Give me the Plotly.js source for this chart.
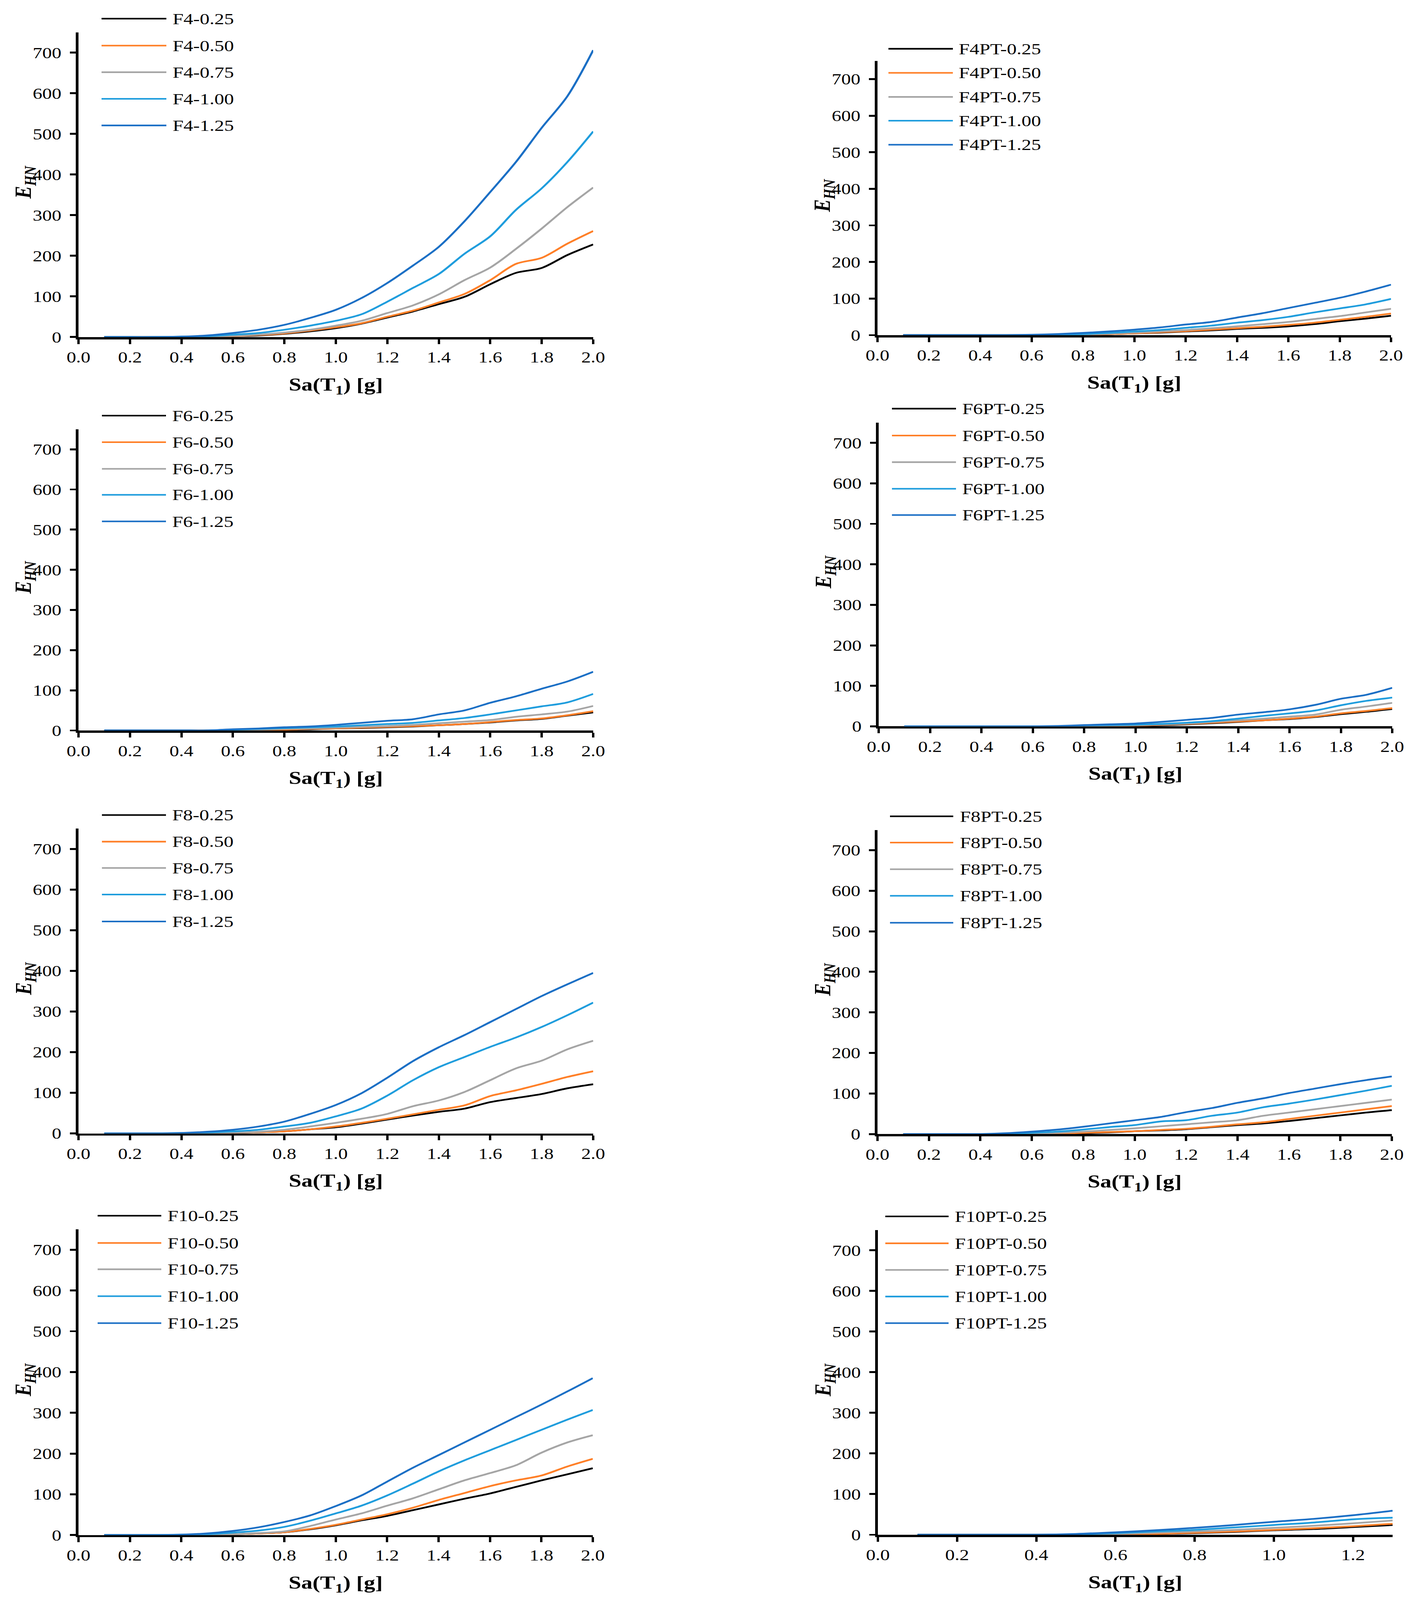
<!DOCTYPE html>
<html>
<head>
<meta charset="utf-8">
<script src="https://cdn.plot.ly/plotly-3.0.1.min.js"></script>
<style>html,body{margin:0;padding:0;background:#fff;}</style>
</head>
<body>
<div id="chart" style="width:3608px;height:5051px;"></div>
<script>
// ---------------- DATA ----------------
const xFull  = [0.1,0.2,0.3,0.4,0.5,0.6,0.7,0.8,0.9,1.0,1.1,1.2,1.3,1.4,1.5,1.6,1.7,1.8,1.9,2.0];
const xShort = [0.1,0.2,0.3,0.4,0.5,0.6,0.7,0.8,0.9,1.0,1.1,1.2,1.3];
const levels = ['0.25','0.50','0.75','1.00','1.25'];
const prefixes = ['F4','F4PT','F6','F6PT','F8','F8PT','F10','F10PT'];

const F4 = [
  [0,0,0,0,1,2,4,8,14,22,33,48,63,81,99,130,158,170,202,228],
  [0,0,0,0,1,2,5,9,16,24,34,50,65,85,106,140,180,195,230,261],
  [0,0,0,0,1,3,6,11,18,28,40,59,78,105,140,171,217,267,320,368],
  [0,0,0,1,2,6,10,18,28,40,56,87,121,155,205,248,313,366,431,506],
  [0,0,0,1,4,10,18,30,47,67,96,133,176,222,285,357,431,515,593,706]
];
const F4PT = [
  [0,0,0,0,0,0,0,1,3,5,7,10,13,17,20,24,30,38,45,53],
  [0,0,0,0,0,0,0,1,3,5,8,11,15,19,23,28,34,42,50,59],
  [0,0,0,0,0,0,1,2,4,7,10,14,19,24,30,36,44,52,62,72],
  [0,0,0,0,0,0,1,3,6,10,14,20,26,34,41,50,62,73,84,99],
  [0,0,0,0,0,1,3,6,10,15,21,29,36,48,60,74,88,102,119,138]
];
const F6 = [
  [0,0,0,0,0,0,1,2,3,5,6,8,10,13,16,20,25,29,37,45],
  [0,0,0,0,0,0,1,2,4,5,7,9,11,13,16,21,26,30,38,48],
  [0,0,0,0,0,1,2,4,5,7,9,11,14,18,22,26,34,40,47,61],
  [0,0,0,0,0,2,4,6,8,10,13,16,19,25,31,40,50,60,70,91],
  [0,0,0,0,0,3,5,8,10,14,19,24,28,40,50,69,85,104,122,146]
];
const F6PT = [
  [0,0,0,0,0,0,0,0,1,2,3,5,8,11,15,18,23,30,36,43],
  [0,0,0,0,0,0,0,0,1,2,4,6,9,12,15,19,24,32,38,45],
  [0,0,0,0,0,0,0,1,2,3,5,7,11,15,19,24,29,41,49,58],
  [0,0,0,0,0,0,0,2,3,4,6,9,13,19,26,32,39,52,63,71],
  [0,0,0,0,0,0,1,3,5,7,11,16,21,29,35,42,53,68,78,95]
];
const F8 = [
  [0,0,0,0,0,1,3,5,10,15,24,34,44,53,61,77,87,97,111,121],
  [0,0,0,0,0,1,3,5,10,17,26,36,47,58,69,92,106,122,139,153],
  [0,0,0,0,1,2,4,9,17,26,36,48,67,81,102,131,160,179,207,228],
  [0,0,0,1,2,5,9,17,26,42,61,93,131,163,188,213,236,262,291,322],
  [0,0,0,1,4,9,17,29,48,70,99,137,178,212,242,274,306,338,367,395]
];
const F8PT = [
  [0,0,0,0,0,0,1,2,4,7,9,12,17,22,26,32,39,46,53,59],
  [0,0,0,0,0,0,1,3,5,7,10,13,18,24,29,37,45,53,61,69],
  [0,0,0,0,0,1,3,6,10,14,19,24,29,34,45,53,61,69,77,85],
  [0,0,0,0,1,3,6,11,17,22,31,34,45,53,66,75,85,96,107,119],
  [0,0,0,0,2,6,11,18,26,34,42,54,64,77,88,101,112,123,133,142]
];
const F10 = [
  [0,0,0,0,1,2,4,7,14,24,36,47,61,75,89,102,118,134,149,164],
  [0,0,0,0,1,2,4,7,15,25,38,51,67,86,103,120,134,146,168,187],
  [0,0,0,0,1,2,5,9,22,38,53,72,90,112,134,152,171,202,227,245],
  [0,0,0,1,2,6,11,20,35,53,72,97,126,156,183,208,233,258,283,307],
  [0,0,0,1,4,10,19,32,48,71,97,131,165,196,227,258,289,320,352,385]
];
const F10PT = [
  [0,0,0,0,0,1,2,4,7,11,14,19,24],
  [0,0,0,0,0,1,2,5,8,12,16,21,27],
  [0,0,0,0,1,2,5,8,12,17,22,28,35],
  [0,0,0,0,1,4,8,12,18,24,30,38,42],
  [0,0,0,0,2,6,11,17,24,32,39,48,59]
];
const panelData = [F4, F4PT, F6, F6PT, F8, F8PT, F10, F10PT];
const panelX    = [xFull, xFull, xFull, xFull, xFull, xFull, xFull, xShort];
const panelXMax = [2.0, 2.0, 2.0, 2.0, 2.0, 2.0, 2.0, 1.3];

const colors = ['#000000', '#FF7F27', '#A5A5A5', '#1F9DDD', '#1B6FC5'];
const xTitle = '<b>Sa(T<sub>1</sub>) [g]</b>';
const yTitle = '<b><i>E<sub>HN</sub></i></b>';

// ---------------- LAYOUT (pixel boxes) ----------------
const W = 3608, H = 5051;
const FONT = '"Liberation Serif", "Times New Roman", Times, serif';
const px = v => v / W;
const py = v => 1 - v / H;

const boxes = [
  {xl:201,  xr:1519, yt:102,  yb:1064, leg:{l0:260,  l1:426,  tx:440,  ys:[59,144,228,312,396]}},
  {xl:2247, xr:3562, yt:192,  yb:1058, leg:{l0:2275, l1:2440, tx:2453, ys:[154,230,306,381,457]}},
  {xl:201,  xr:1519, yt:1355, yb:2306, leg:{l0:261,  l1:425,  tx:439,  ys:[1312,1396,1480,1562,1646]}},
  {xl:2250, xr:3565, yt:1334, yb:2293, leg:{l0:2284, l1:2448, tx:2462, ys:[1290,1375,1459,1543,1626]}},
  {xl:201,  xr:1519, yt:2616, yb:3578, leg:{l0:261,  l1:425,  tx:439,  ys:[2573,2657,2740,2824,2909]}},
  {xl:2247, xr:3564, yt:2620, yb:3580, leg:{l0:2279, l1:2441, tx:2456, ys:[2577,2660,2744,2828,2913]}},
  {xl:201,  xr:1518, yt:3881, yb:4846, leg:{l0:250,  l1:413,  tx:427,  ys:[3838,3924,4007,4092,4177]}},
  {xl:2248, xr:3566, yt:3883, yb:4845, leg:{l0:2267, l1:2429, tx:2443, ys:[3840,3925,4009,4093,4177]}}
];

const traces = [];
const layout = {
  width: W, height: H,
  margin: {l:0, r:0, t:0, b:0, pad:0},
  paper_bgcolor: '#ffffff', plot_bgcolor: '#ffffff',
  showlegend: false,
  font: {family: FONT, color: '#000000', size: 48},
  shapes: [], annotations: []
};

const id = n => (n === 1 ? '' : String(n));

boxes.forEach((b, p) => {
  const i = p + 1, o = p + 9;
  const xs = panelX[p], data = panelData[p], xmax = panelXMax[p];
  data.forEach((ys, k) => {
    traces.push({
      type: 'scatter', mode: 'lines',
      x: xs, y: ys,
      name: prefixes[p] + '-' + levels[k],
      xaxis: 'x' + id(i), yaxis: 'y' + id(i),
      line: {color: colors[k], width: 5.5, shape: 'spline', smoothing: 0.9},
      hoverinfo: 'skip'
    });
  });

  const common = {showgrid:false, zeroline:false, tickcolor:'#000000', tickwidth:6, ticklen:15, fixedrange:true};
  layout['xaxis' + id(i)] = Object.assign({}, common, {
    domain: [px(b.xl), px(b.xr)], anchor: 'y' + id(i),
    range: [0, xmax], tick0: 0, dtick: 0.2, tickformat: '.1f',
    ticks: 'outside', showline: true, linewidth: 7, linecolor: '#000000',
    layer: 'below traces', ticklabeloverflow: 'allow', ticklabelstandoff: 0,
    tickfont: {family: FONT, size: 49, color: '#000000'},
    title: {text: xTitle, font: {family: FONT, size: 58, color: '#000000'}, standoff: 40}
  });
  layout['yaxis' + id(i)] = Object.assign({}, common, {
    domain: [py(b.yb), py(b.yt)], anchor: 'x' + id(i),
    range: [0, 750], tick0: 0, dtick: 100,
    ticks: 'outside', showline: true, linewidth: 7, linecolor: '#000000',
    layer: 'below traces', ticklabelstandoff: 12,
    tickfont: {family: FONT, size: 49, color: '#000000'}
  });
  // overlay axes: inner half of the crossing tick marks
  layout['xaxis' + o] = Object.assign({}, common, {
    overlaying: 'x' + id(i), anchor: 'y' + id(i),
    range: [0, xmax], tick0: 0, dtick: 0.2, ticks: 'inside',
    showticklabels: false, showline: false
  });
  layout['yaxis' + o] = Object.assign({}, common, {
    overlaying: 'y' + id(i), anchor: 'x' + id(i),
    range: [0, 750], tick0: 0, dtick: 100, ticks: 'inside',
    showticklabels: false, showline: false
  });

  // y-axis title (placed like the original: its subscript runs into the tick labels)
  layout.annotations.push({
    xref: 'paper', yref: 'paper',
    x: px(b.xl - 137), y: py((b.yt + b.yb) / 2 - 8),
    xanchor: 'center', yanchor: 'middle', textangle: -90, showarrow: false,
    text: yTitle, font: {family: FONT, size: 60, color: '#000000'}
  });

  // legend keys (long line samples, as in the original)
  levels.forEach((lv, k) => {
    const yy = py(b.leg.ys[k]);
    layout.shapes.push({
      type: 'line', xref: 'paper', yref: 'paper',
      x0: px(b.leg.l0), x1: px(b.leg.l1), y0: yy, y1: yy,
      line: {color: colors[k], width: 5}
    });
    layout.annotations.push({
      xref: 'paper', yref: 'paper', x: px(b.leg.tx), y: yy,
      xanchor: 'left', yanchor: 'middle', showarrow: false,
      text: prefixes[p] + '-' + lv,
      font: {family: FONT, size: 50, color: '#000000'}
    });
  });
});

// If the browser viewport is smaller than the intended canvas, fit the whole figure into it.
function fitToViewport() {
  const vw = window.innerWidth, vh = window.innerHeight;
  const el = document.getElementById('chart');
  if (vw > 0 && vh > 0 && (vh < H - 2 || vw < W - 2)) {
    el.style.transformOrigin = '0 0';
    el.style.transform = 'scale(' + (vw / W) + ',' + (vh / H) + ')';
    document.documentElement.style.overflow = 'hidden';
    document.body.style.overflow = 'hidden';
    document.body.style.height = vh + 'px';
  }
}
fitToViewport();

Plotly.newPlot('chart', traces, layout, {displayModeBar: false, staticPlot: true});
</script>
</body>
</html>
